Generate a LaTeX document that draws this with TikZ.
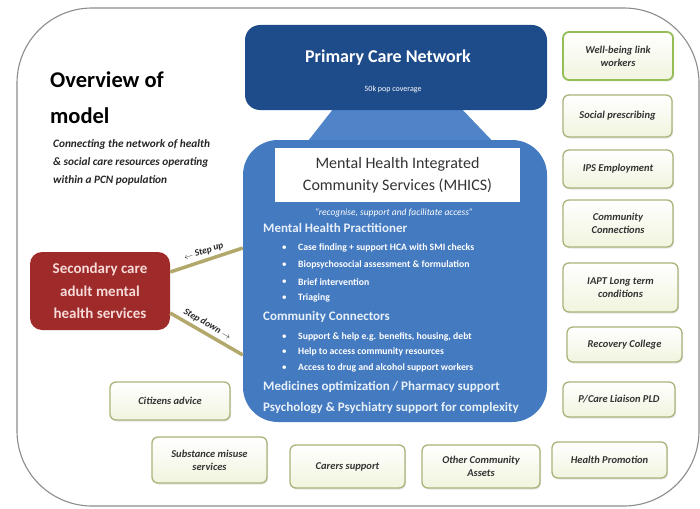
\documentclass[tikz,border=0pt]{standalone}
\usepackage{fontspec}
\setmainfont{Carlito}
\usetikzlibrary{shadows}
\definecolor{pcnblue}{RGB}{30,76,138}
\definecolor{mhblue}{RGB}{68,122,192}
\definecolor{mhtrap}{RGB}{80,132,200}
\definecolor{mhtext}{RGB}{232,240,250}
\definecolor{secred}{RGB}{158,42,42}
\definecolor{secfont}{RGB}{246,218,216}
\definecolor{boxline}{RGB}{168,180,122}
\definecolor{boxgreen}{RGB}{150,190,88}
\definecolor{boxfill}{RGB}{241,244,222}
\definecolor{stepolive}{RGB}{178,168,108}
\definecolor{framegray}{RGB}{140,140,140}
\begin{document}
\begin{tikzpicture}[x=1pt, y=-1pt,
    outerframe/.style={draw=framegray, line width=1.1pt, rounded corners=75pt},
    bigbox/.style={rounded corners=#1, inner sep=0pt},
    resbox/.style={draw=boxline, line width=1.3pt, rounded corners=6pt,
        top color=white, bottom color=boxfill, align=center, text=black!80,
        font=\fontsize{10.5}{13}\selectfont\bfseries\itshape,
        drop shadow={opacity=0.2, shadow xshift=1pt, shadow yshift=-1.5pt}},
    subline/.style={anchor=base west, inner sep=0pt, text=black!85,
        font=\fontsize{11.3}{13}\selectfont\bfseries\itshape},
    mhhead/.style={anchor=west, inner sep=0pt, text=mhtext,
        font=\fontsize{13}{15}\selectfont\bfseries},
    mhitem/.style={anchor=west, inner sep=0pt, text=white,
        font=\fontsize{9.7}{11}\selectfont\bfseries,
        label={[text=white, label distance=11pt, inner sep=0pt]left:\textbullet}},
    steppath/.style={draw=stepolive, line width=3.5pt},
    steplabel/.style={sloped, above, inner sep=3pt, text=black!85,
        font=\fontsize{9.5}{11}\selectfont\bfseries\itshape}]
    % Rahmen
    \useasboundingbox (0,0) rectangle (700,508);
    \draw[outerframe] (17,8) rectangle (699,506);
    % Titel
    \node[anchor=base west, inner sep=0pt, font=\fontsize{22.5}{26}\selectfont\bfseries] (title1) at (50,88) {Overview of};
    \node[anchor=base west, inner sep=0pt, font=\fontsize{22.5}{26}\selectfont\bfseries] (title2) at (50,123) {model};
    \node[subline] (sub1) at (53,147) {Connecting the network of health};
    \node[subline] (sub2) at (53,165) {\& social care resources operating};
    \node[subline] (sub3) at (53,183) {within a PCN population};
    % Primary Care Network
    \fill[mhtrap] (337,104) -- (457,104) -- (501,150) -- (301,150) -- cycle;
    \node[bigbox=15pt, fill=pcnblue, minimum width=302pt, minimum height=85pt] (pcn) at (396,67.5) {};
    \node[text=white, font=\fontsize{18}{20}\selectfont\bfseries] (pcnname) at (388,58) {Primary Care Network};
    \node[text=white, font=\fontsize{8}{10}\selectfont] (pcnpop) at (393,89) {50k pop coverage};
    % MHICS
    \node[bigbox=35pt, fill=mhblue, minimum width=304pt, minimum height=282pt] (mhics) at (395,281) {};
    \node[fill=white, minimum width=245pt, minimum height=54pt, inner sep=0pt, align=center,
        text=black!80, font=\fontsize{16}{22}\selectfont] (mhicsname) at (397.5,175)
        {Mental Health Integrated\\Community Services (MHICS)};
    \node[text=white, font=\fontsize{9.5}{11}\selectfont\itshape] (motto) at (394,213)
        {``recognise, support and facilitate access''};
    \node[mhhead] (mhp) at (263,228) {Mental Health Practitioner};
    \node[mhitem] (b1) at (298,248) {Case finding + support HCA with SMI checks};
    \node[mhitem] (b2) at (298,265) {Biopsychosocial assessment \& formulation};
    \node[mhitem] (b3) at (298,282) {Brief intervention};
    \node[mhitem] (b4) at (298,298) {Triaging};
    \node[mhhead] (ccon) at (263,317) {Community Connectors};
    \node[mhitem] (b5) at (298,337) {Support \& help e.g. benefits, housing, debt};
    \node[mhitem] (b6) at (298,352) {Help to access community resources};
    \node[mhitem] (b7) at (298,368) {Access to drug and alcohol support workers};
    \node[mhhead] (meds) at (263,387) {Medicines optimization / Pharmacy support};
    \node[mhhead] (psych) at (263,408) {Psychology \& Psychiatry support for complexity};
    % Sekundaerversorgung
    \node[bigbox=12pt, fill=secred, minimum width=140pt, minimum height=78pt, align=center,
        text=secfont, font=\fontsize{15}{22.5}\selectfont\bfseries] (sec) at (100,291)
        {Secondary care\\adult mental\\health services};
    \draw[steppath] ([yshift=19pt]sec.east) -- node[steplabel] (stepup) {$\leftarrow$ Step up} ([yshift=33pt]mhics.west);
    \draw[steppath] ([yshift=-22pt]sec.east) -- node[steplabel, pos=0.45] (stepdown) {Step down $\rightarrow$} ([yshift=-74pt]mhics.west);
    % Angebote rechts
    \node[resbox, draw=boxgreen, line width=1.8pt, minimum width=110pt, minimum height=48pt] (wellbeing) at (618,56) {Well-being link\\workers};
    \node[resbox, minimum width=109pt, minimum height=42pt] (socpres) at (617.5,116) {Social prescribing};
    \node[resbox, minimum width=110pt, minimum height=38pt] (ips) at (618,169) {IPS Employment};
    \node[resbox, minimum width=110pt, minimum height=47pt] (commcon) at (618,223.5) {Community\\Connections};
    \node[resbox, minimum width=115pt, minimum height=49pt] (iapt) at (620.5,287.5) {IAPT Long term\\conditions};
    \node[resbox, minimum width=115pt, minimum height=35pt] (recov) at (624.5,344.5) {Recovery College};
    \node[resbox, minimum width=112pt, minimum height=35pt] (pld) at (619,399.5) {P/Care Liaison PLD};
    % Angebote unten
    \node[resbox, minimum width=115pt, minimum height=36pt] (healthpro) at (609.5,460) {Health Promotion};
    \node[resbox, minimum width=118pt, minimum height=43pt] (assets) at (481,466.5) {Other Community\\Assets};
    \node[resbox, minimum width=115pt, minimum height=43pt] (carers) at (347.5,466.5) {Carers support};
    \node[resbox, minimum width=115pt, minimum height=46pt] (substance) at (209.5,460) {Substance misuse\\services};
    \node[resbox, minimum width=120pt, minimum height=38pt] (citizens) at (170,401) {Citizens advice};
\end{tikzpicture}
\end{document}
